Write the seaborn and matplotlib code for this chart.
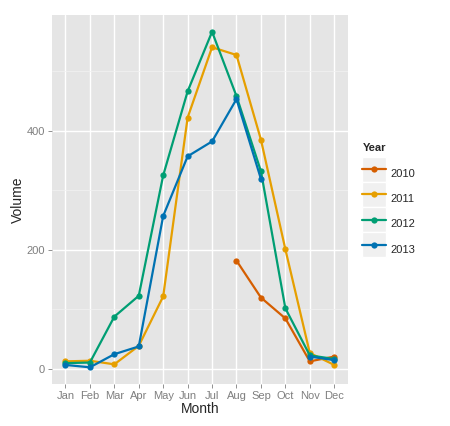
import pandas as pd
import numpy as np
import matplotlib
matplotlib.use('Agg')
import matplotlib.pyplot as plt
from matplotlib.ticker import MultipleLocator
from matplotlib.legend_handler import HandlerLine2D
from matplotlib.patches import Rectangle
import seaborn as sns

months = ['Jan', 'Feb', 'Mar', 'Apr', 'May', 'Jun',
          'Jul', 'Aug', 'Sep', 'Oct', 'Nov', 'Dec']
vol_2010 = [None, None, None, None, None, None, None, 182, 120, 85, 13, 21]
vol_2011 = [13, 14, 8, 39, 122, 422, 540, 527, 385, 201, 27, 7]
vol_2012 = [10, 11, 88, 123, 325, 466, 566, 458, 332, 102, 23, 17]
vol_2013 = [7, 3, 25, 38, 257, 357, 382, 453, 319, None, 21, 15]
years = ['2010', '2011', '2012', '2013']
colors = ['#D55E00', '#E69F00', '#009E73', '#0072B2']

# long table; a missing month breaks the line into a new segment
rows = []
for yr, vals in zip(years, [vol_2010, vol_2011, vol_2012, vol_2013]):
    seg = 0
    for i, v in enumerate(vals):
        if v is None:
            seg += 1
            continue
        rows.append({'Month': i + 1, 'Volume': v, 'Year': yr,
                     'Seg': f'{yr}-{seg}'})
df = pd.DataFrame(rows)

sns.set_theme(style='darkgrid', rc={
    'axes.facecolor': '#E5E5E5',
    'grid.color': 'white',
    'axes.edgecolor': '#E5E5E5',
})
plt.rcParams['font.family'] = ['Liberation Sans', 'DejaVu Sans']


class KeyBox(HandlerLine2D):
    # grey ggplot-style key centred on each legend line
    def create_artists(self, legend, orig_handle, xdescent, ydescent,
                       width, height, fontsize, trans):
        arts = super().create_artists(legend, orig_handle, xdescent, ydescent,
                                      width, height, fontsize, trans)
        box = Rectangle((-xdescent, -ydescent / 2), width, height,
                        facecolor='#F0F0F0', edgecolor='white',
                        linewidth=1.0, transform=trans, zorder=0)
        return [box] + arts


fig = plt.figure(figsize=(4.5, 4.26), dpi=100)
ax = fig.add_axes([0.1156, 0.0986, 0.657, 0.866])

sns.lineplot(data=df, x='Month', y='Volume', hue='Year', units='Seg',
             estimator=None, hue_order=years, palette=colors, marker='o',
             markersize=4.5, markeredgewidth=0, linewidth=1.6, ax=ax)

ax.set_xlim(0.45, 12.55)
ax.set_ylim(-25, 594)
ax.set_xticks(range(1, 13))
ax.set_xticklabels(months)
ax.yaxis.set_major_locator(MultipleLocator(200))
ax.yaxis.set_minor_locator(MultipleLocator(100))
ax.grid(True, which='major', color='white', linewidth=1.0)
ax.grid(True, which='minor', axis='y', color='#F2F2F2', linewidth=0.5)
ax.tick_params(axis='both', which='major', labelsize=8, labelcolor='#7F7F7F',
               length=3, width=0.6, color='#7F7F7F', pad=2, bottom=True, left=True)
ax.tick_params(axis='both', which='minor', length=0)
for s in ax.spines.values():
    s.set_visible(False)
ax.set_xlabel('Month', fontsize=10, labelpad=1)
ax.set_ylabel('Volume', fontsize=10, labelpad=1)

handles, labels = ax.get_legend_handles_labels()
leg = ax.legend(handles, labels, title='Year', loc='center left',
                bbox_to_anchor=(1.05, 0.492), frameon=False, fontsize=8,
                handlelength=2.15, handleheight=3.1, labelspacing=0,
                handletextpad=0.35, borderpad=0, borderaxespad=0,
                handler_map={type(handles[0]): KeyBox()})
leg.get_title().set_fontweight('bold')
leg.get_title().set_fontsize(8)
leg._legend_box.align = 'left'
leg._legend_box.sep = 6

fig.savefig('out.png', dpi=100)
